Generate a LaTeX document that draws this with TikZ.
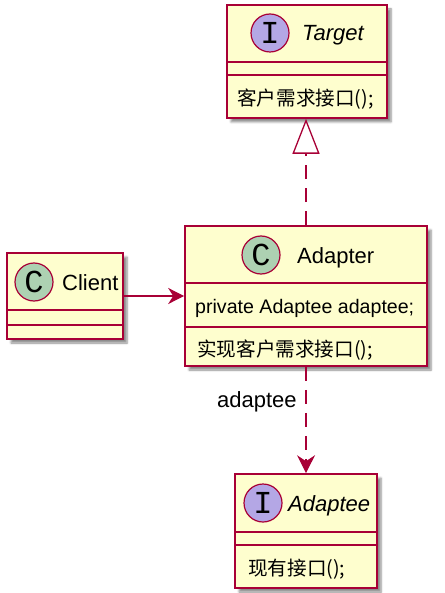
\documentclass[tikz,border=0pt]{standalone}
\usepackage{fontspec}
\setmainfont{Liberation Sans}
\newfontfamily\cjk{Noto Sans CJK SC}
\newfontfamily\spotfont{Liberation Mono}
\usetikzlibrary{arrows.meta,shadows.blur}
\definecolor{umlfill}{HTML}{FEFECE}
\definecolor{umlline}{HTML}{A80036}
\definecolor{spotC}{HTML}{ADD1B2}
\definecolor{spotI}{HTML}{B4A7E5}
\tikzset{
 clsbox/.style={draw=umlline, fill=umlfill, line width=1.6pt, inner sep=0,
   blur shadow={shadow xshift=4pt, shadow yshift=-4pt, shadow blur steps=6, shadow opacity=45}},
 sepline/.style={draw=umlline, line width=1.6pt},
 spot/.style={circle, draw=umlline, line width=1.2pt, minimum size=38pt, inner sep=0,
   font=\spotfont\fontsize{32}{32}\selectfont},
 cname/.style={anchor=base west, inner sep=0, font=\fontsize{22}{26}\selectfont},
 member/.style={anchor=base west, inner sep=0, font=\fontsize{19.6}{23}\selectfont},
 conn/.style={draw=umlline, line width=1.3pt},
 dashline/.style={dash pattern=on 14pt off 9pt},
}
\begin{document}
\begin{tikzpicture}[x=1pt,y=-1pt]
\useasboundingbox (0,0) rectangle (444,593);
% Target
\node[clsbox, minimum width=160pt, minimum height=113pt] (target) at (307,61.5) {};
\draw[sepline] (target.west |- 0,62) -- (target.east |- 0,62);
\draw[sepline] (target.west |- 0,75) -- (target.east |- 0,75);
\node[spot, fill=spotI] (tspot) at (270,33) {I};
\node[cname, font=\itshape\fontsize{22}{26}\selectfont] (tname) at (302,41) {Target};
\node[member] (tm) at (237,106) {\cjk 客户需求接口();};
% Client
\node[clsbox, minimum width=116pt, minimum height=86pt] (client) at (65,296) {};
\draw[sepline] (client.west |- 0,310) -- (client.east |- 0,310);
\draw[sepline] (client.west |- 0,325) -- (client.east |- 0,325);
\node[spot, fill=spotC] (cspot) at (34,282) {C};
\node[cname] (cname) at (62,290) {Client};
% Adapter
\node[clsbox, minimum width=242pt, minimum height=140pt] (adapter) at (306,296) {};
\draw[sepline] (adapter.west |- 0,283) -- (adapter.east |- 0,283);
\draw[sepline] (adapter.west |- 0,327) -- (adapter.east |- 0,327);
\node[spot, fill=spotC] (aspot) at (261,255) {C};
\node[cname] (aname) at (297,263) {Adapter};
\node[member] (aattr) at (195,313) {private Adaptee adaptee;};
\node[member] (ameth) at (197,356) {\cjk 实现客户需求接口();};
% Adaptee
\node[clsbox, minimum width=142pt, minimum height=114pt] (adaptee) at (306,531) {};
\draw[sepline] (adaptee.west |- 0,532) -- (adaptee.east |- 0,532);
\draw[sepline] (adaptee.west |- 0,545) -- (adaptee.east |- 0,545);
\node[spot, fill=spotI] (despot) at (263,503) {I};
\node[cname, font=\itshape\fontsize{22}{26}\selectfont] (dename) at (288,511) {Adaptee};
\node[member] (dem) at (248,575) {\cjk 现有接口();};
% connectors
\draw[conn, -{Stealth[length=16pt,width=16pt,inset=5pt]}] (client.east) -- (adapter.west |- client.east);
\draw[conn, dashline, -{Triangle[length=35pt,width=27pt,fill=white]}] (adapter.north) -- (adapter.north |- target.south);
\draw[conn, dashline, -{Stealth[length=18pt,width=18pt,inset=6pt]}] (adapter.south) -- (adaptee.north);
\node[cname] (lbl) at (217,407) {adaptee};
\end{tikzpicture}
\end{document}
